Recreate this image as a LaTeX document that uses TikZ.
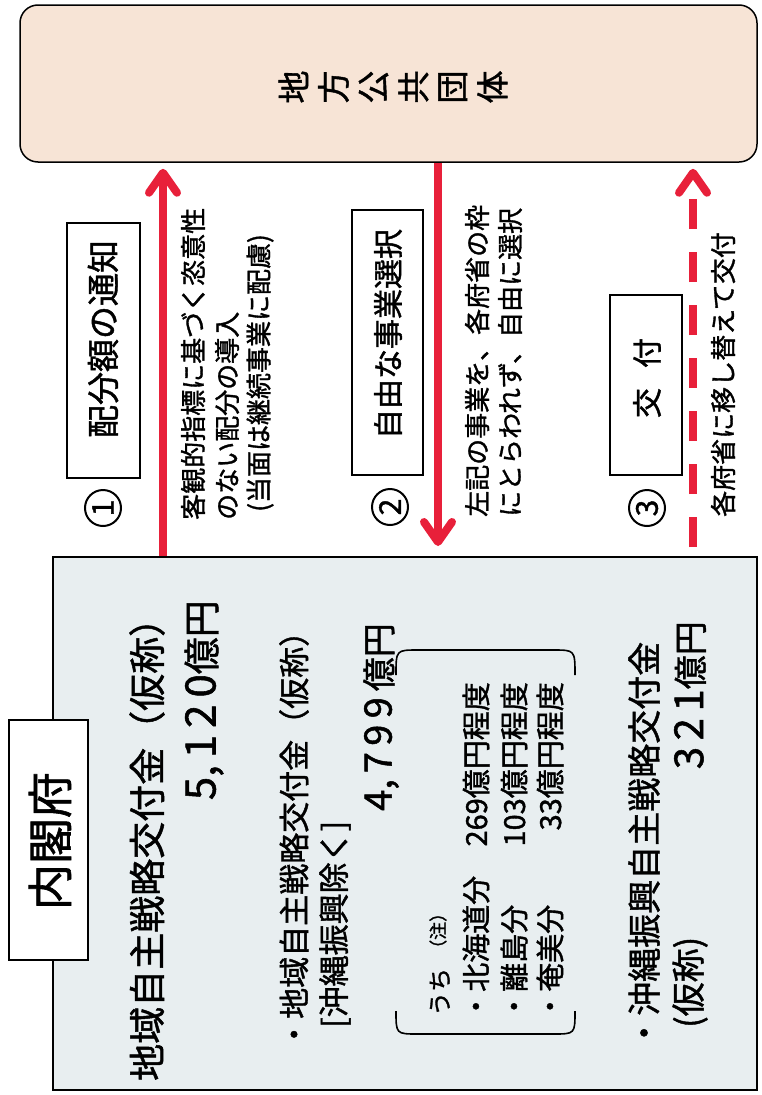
\documentclass[tikz,border=0pt]{standalone}
\usepackage{fontspec}
\setmainfont{Noto Sans CJK JP}[FakeBold=1.3]
\usetikzlibrary{arrows.meta}
\definecolor{arrred}{HTML}{E8203A}
\definecolor{peach}{HTML}{F7E4D6}
\definecolor{panelbg}{HTML}{E8EEF0}
\newcommand{\myfs}[1]{\fontsize{#1}{#1}\selectfont}
\newcommand{\vchar}[1]{\rotatebox{90}{#1}}
\begin{document}
\begin{tikzpicture}[x=1pt,y=-1pt,
  vt/.style={rotate=90, inner sep=0pt, anchor=west},
  vte/.style={rotate=90, inner sep=0pt, anchor=east},
  vc/.style={rotate=90, inner sep=0pt, anchor=center},
  lblbox/.style={draw, line width=1.4pt, fill=white, rotate=90, inner sep=0pt},
  numcirc/.style={draw, circle, line width=2pt, minimum size=36pt, inner sep=0pt, rotate=90},
  redarr/.style={draw=arrred, line width=8pt, -{Straight Barb[length=20pt,width=28pt,round]}},
]
\useasboundingbox (0,0) rectangle (761,1095);
\fill[white] (0,0) rectangle (761,1095);

% top box
\node[draw, line width=1.5pt, rounded corners=18pt, fill=peach, minimum width=737pt, minimum height=157pt, inner sep=0pt] (top) at (388.5,83.5) {};
\node[inner sep=0pt] (toplbl) at (393,87) {\myfs{33}\vchar{地}\hspace{10pt}\vchar{方}\hspace{10pt}\vchar{公}\hspace{10pt}\vchar{共}\hspace{10pt}\vchar{団}\hspace{10pt}\vchar{体}};

% bottom panel
\node[draw, line width=2pt, fill=panelbg, minimum width=704pt, minimum height=533pt, inner sep=0pt] (panel) at (405,823.5) {};
\node[lblbox, minimum width=240pt, minimum height=79pt] (naikaku) at (48.5,840) {};
\node[vc] (naikakut) at (50,841) {\myfs{46}内閣府};

% connectors
\coordinate (c1) at (163,0);
\coordinate (c2) at (438,0);
\coordinate (c3) at (693,0);
\draw[redarr, shorten >=6pt] (panel.north -| c1) -- (top.south -| c1);
\draw[redarr, shorten >=10pt] (top.south -| c2) -- (panel.north -| c2);
\draw[redarr, dash pattern=on 30pt off 23pt, dash phase=44pt, shorten >=6pt] (panel.north -| c3) -- (top.south -| c3);

% step 1
\node[numcirc] (n1) at (103,508) {\myfs{30}1};
\node[lblbox, minimum width=255pt, minimum height=73pt] (b1) at (103.5,350.5) {};
\node[vc] (t1) at (103,339) {\myfs{33}配分額の通知};
\node[vt] (s1a) at (193,520) {\myfs{26}客観的指標に基づく恣意性};
\node[vt] (s1b) at (227,520) {\myfs{26}のない配分の導入};
\node[vt] (s1c) at (260,512) {\myfs{26}(当面は継続事業に配慮)};

% step 2
\node[numcirc] (n2) at (390,507) {\myfs{30}2};
\node[lblbox, minimum width=265pt, minimum height=71pt] (b2) at (387.5,342.5) {};
\node[vc] (t2) at (388,334) {\myfs{30}自由な事業選択};
\node[vt] (s2a) at (477,517) {\myfs{26}左記の事業を、各府省の枠};
\node[vt] (s2b) at (510,517) {\myfs{26}にとらわれず、自由に選択};

% step 3
\node[numcirc] (n3) at (647,508) {\myfs{30}3};
\node[lblbox, minimum width=180pt, minimum height=72pt] (b3) at (646,385) {};
\node[vc] (t3) at (647,378) {\myfs{30}交\hspace{20pt}付};
\node[vt] (s3a) at (723,517) {\myfs{26}各府省に移し替えて交付};

% panel texts
\node[vt] (p1) at (147,1081) {\myfs{37}地域自主戦略交付金（仮称）};
\node[vte] (p1v) at (204,600) {{\myfs{42}5,\,1\,2\,0}{\myfs{37}億円}};
\node[vt] (p2) at (294,1050) {\myfs{31}・地域自主戦略交付金（仮称）};
\node[vt] (p2b) at (335,1028) {\myfs{31}[沖縄振興除く]};
\node[vte] (p2v) at (381,623) {{\myfs{38}4,\hspace{6pt}7\,9\,9\hspace{6pt}}{\myfs{34}億円}};

% note bracket
\draw[line width=1.6pt] (396,1011) .. controls (396,1034) .. (418,1034) -- (553,1034) .. controls (575,1034) .. (575,1011);
\draw[line width=1.6pt] (396,675) .. controls (396,650) .. (418,650) -- (553,650) .. controls (575,650) .. (575,675);
\node[vt] (uchi) at (440,1016) {\myfs{24}うち};
\node[vt] (chu) at (438,958) {\myfs{18}（注）};
\node[vt] (h1) at (476,1021) {\myfs{29}・北海道分};
\node[vte] (h1v) at (476,682) {\myfs{29}269億円程度};
\node[vt] (h2) at (514,1021) {\myfs{29}・離島分};
\node[vte] (h2v) at (514,682) {\myfs{29}103億円程度};
\node[vt] (h3) at (550,1021) {\myfs{29}・奄美分};
\node[vte] (h3v) at (550,682) {\myfs{29}33億円程度};

\node[vt] (p3) at (644,1050) {\myfs{34}・沖縄振興自主戦略交付金};
\node[vt] (p3b) at (690,1028) {\myfs{34}(仮称)};
\node[vte] (p3v) at (690,621) {{\myfs{40}3\,2\,1}{\myfs{34}億円}};
\end{tikzpicture}
\end{document}
